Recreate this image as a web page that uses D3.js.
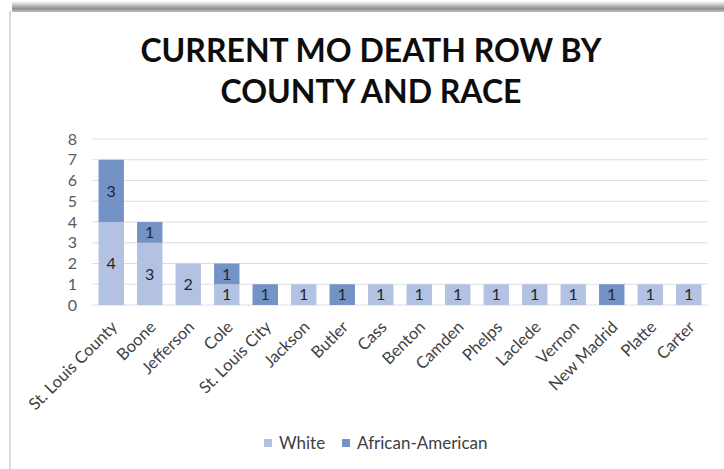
<!DOCTYPE html>
<html>
<head>
<meta charset="utf-8">
<script src="https://cdn.jsdelivr.net/npm/d3@7"></script>
<style>
  body { margin: 0; background: #fff; }
  svg { display: block; font-family: Lato, "Open Sans", sans-serif; }
</style>
</head>
<body>
<div id="chart"></div>
<script>
// Chart data
const counties = ["St. Louis County", "Boone", "Jefferson", "Cole", "St. Louis City", "Jackson",
    "Butler", "Cass", "Benton", "Camden", "Phelps", "Laclede", "Vernon", "New Madrid", "Platte", "Carter"];
const white = [4, 3, 2, 1, 0, 1, 0, 1, 1, 1, 1, 1, 1, 0, 1, 1];
const africanAmerican = [3, 1, 0, 1, 1, 0, 1, 0, 0, 0, 0, 0, 0, 1, 0, 0];
const seriesNames = ["White", "African-American"];
const yTicks = [0, 1, 2, 3, 4, 5, 6, 7, 8];
const titleLines = ["CURRENT MO DEATH ROW BY", "COUNTY AND RACE"];

const colors = ["#b3c2e3", "#7393c7"];

const width = 724, height = 469;
const plot = { left: 92, right: 708, top: 139, bottom: 305 };

const svg = d3.select("#chart")
    .append("svg")
    .attr("width", width)
    .attr("height", height);

// top shadow and left border of the frame
const defs = svg.append("defs");
const grad = defs.append("linearGradient")
    .attr("id", "shadow")
    .attr("x1", 0).attr("y1", 0).attr("x2", 0).attr("y2", 1);
grad.append("stop").attr("offset", "0%").attr("stop-color", "#fff");
grad.append("stop").attr("offset", "70%").attr("stop-color", "#8f8f8f");
grad.append("stop").attr("offset", "100%").attr("stop-color", "#c0c0c0");

svg.append("rect")
    .attr("x", 12).attr("y", 1)
    .attr("width", width - 12).attr("height", 11)
    .attr("fill", "url(#shadow)");
svg.append("line")
    .attr("x1", 10).attr("x2", 10)
    .attr("y1", 11).attr("y2", height)
    .attr("stroke", "#dcdcdc")
    .attr("stroke-width", 2);

// Title
svg.append("g").selectAll("text")
    .data(titleLines)
    .enter()
    .append("text")
    .attr("x", 371)
    .attr("y", (d, i) => 62 + i * 41)
    .attr("text-anchor", "middle")
    .style("font-size", "32px")
    .style("font-weight", "bold")
    .style("fill", "#0d0d0d")
    .text(d => d);

// Scales
const x = d3.scaleBand()
    .domain(counties)
    .range([plot.left, plot.right])
    .paddingInner(0.34)
    .paddingOuter(0.17);

const y = d3.scaleLinear()
    .domain([0, 8])
    .range([plot.bottom, plot.top]);

// Gridlines
svg.append("g")
    .selectAll("line")
    .data(yTicks)
    .enter()
    .append("line")
    .attr("x1", plot.left)
    .attr("x2", plot.right)
    .attr("y1", d => y(d))
    .attr("y2", d => y(d))
    .attr("stroke", "#dedede")
    .attr("stroke-width", 1);

// Y axis
const yAxis = svg.append("g")
    .attr("transform", "translate(" + (plot.left - 15) + ",0)")
    .call(d3.axisLeft(y).tickValues(yTicks).tickSize(0).tickPadding(0));
yAxis.select(".domain").remove();
yAxis.selectAll("text")
    .style("font-family", "Lato, sans-serif")
    .style("font-size", "16px")
    .style("fill", "#595959");

// Stacked data
const rows = counties.map((c, i) => ({ county: c, White: white[i], "African-American": africanAmerican[i] }));
const stacked = d3.stack().keys(seriesNames)(rows);

const layers = svg.append("g")
    .selectAll("g")
    .data(stacked)
    .enter()
    .append("g")
    .attr("fill", (d, i) => colors[i]);

layers.selectAll("rect")
    .data(d => d.filter(s => s[1] - s[0] > 0))
    .enter()
    .append("rect")
    .attr("x", d => x(d.data.county))
    .attr("y", d => y(d[1]))
    .attr("width", x.bandwidth())
    .attr("height", d => y(d[0]) - y(d[1]));

// Data labels
layers.selectAll("text")
    .data(d => d.filter(s => s[1] - s[0] > 0))
    .enter()
    .append("text")
    .attr("x", d => x(d.data.county) + x.bandwidth() / 2)
    .attr("y", d => y((d[0] + d[1]) / 2))
    .attr("dy", "0.36em")
    .attr("text-anchor", "middle")
    .style("font-size", "16px")
    .style("fill", "#262626")
    .text(d => d[1] - d[0]);

// X axis labels
const xAxis = svg.append("g")
    .attr("transform", "translate(0," + plot.bottom + ")")
    .call(d3.axisBottom(x).tickSize(0).tickPadding(0));
xAxis.select(".domain").remove();
xAxis.selectAll("text")
    .attr("transform", "translate(3,19) rotate(-45)")
    .attr("dy", "0.35em")
    .style("text-anchor", "end")
    .style("font-family", "Lato, sans-serif")
    .style("font-size", "16.5px")
    .style("fill", "#404040");

// Legend
const legendX = [264, 342];
const legend = svg.append("g")
    .selectAll("g")
    .data(seriesNames)
    .enter()
    .append("g")
    .attr("transform", (d, i) => "translate(" + legendX[i] + ",439)");
legend.append("rect")
    .attr("width", 8)
    .attr("height", 8)
    .attr("fill", (d, i) => colors[i]);
legend.append("text")
    .attr("x", 15)
    .attr("y", 4)
    .attr("dy", "0.36em")
    .style("font-size", "17px")
    .style("fill", "#404040")
    .text(d => d);
</script>
</body>
</html>
